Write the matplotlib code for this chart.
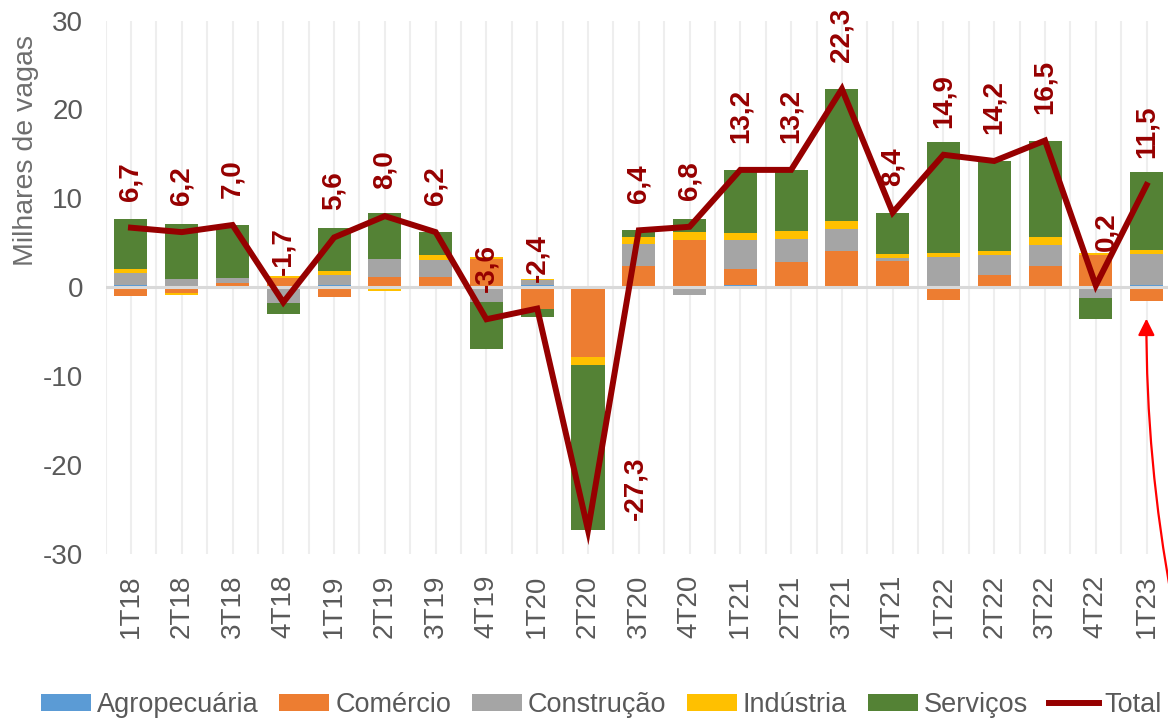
import matplotlib
matplotlib.use('Agg')
import matplotlib.pyplot as plt
import numpy as np

plt.rcParams['font.family'] = ['Liberation Sans', 'DejaVu Sans']
plt.rcParams['axes.unicode_minus'] = False

# saldo de vagas por trimestre e setor (milhares)
trimestres = ['1T18', '2T18', '3T18', '4T18', '1T19', '2T19', '3T19', '4T19',
              '1T20', '2T20', '3T20', '4T20', '1T21', '2T21', '3T21', '4T21',
              '1T22', '2T22', '3T22', '4T22', '1T23']
agropecuaria = [0.3, 0.0, 0.0, -0.2, 0.2, 0.0, 0.0, 0.0, 0.2, 0.0, 0.0,
                0.0, 0.3, 0.0, 0.0, 0.0, 0.0, 0.0, 0.0, 0.0, 0.2]
comercio = [-1.0, -0.6, 0.5, 1.0, -1.1, 1.1, 1.2, 3.2, -2.4, -7.8, 2.4,
            5.3, 1.8, 2.8, 4.1, 3.0, -1.4, 1.4, 2.4, 3.6, -1.5]
construcao = [1.3, 0.9, 0.5, -1.6, 1.2, 2.1, 1.9, -1.7, 0.6, 0.0, 2.5,
              -0.9, 3.2, 2.6, 2.5, 0.3, 3.4, 2.2, 2.4, -1.2, 3.5]
industria = [0.4, -0.3, 0.0, 0.3, 0.4, -0.4, 0.5, 0.2, 0.1, -1.0, 0.8,
             0.9, 0.8, 0.9, 0.8, 0.4, 0.5, 0.5, 0.8, 0.2, 0.5]
servicos = [5.7, 6.2, 6.0, -1.2, 4.9, 5.2, 2.6, -5.3, -0.9, -18.5, 0.7,
            1.5, 7.1, 6.9, 14.9, 4.7, 12.4, 10.1, 10.9, -2.4, 8.8]
total = [6.7, 6.2, 7.0, -1.7, 5.6, 8.0, 6.2, -3.6, -2.4, -27.3, 6.4,
         6.8, 13.2, 13.2, 22.3, 8.4, 14.9, 14.2, 16.5, 0.2, 11.5]

setores = [('Agropecuária', agropecuaria, '#5B9BD5'),
           ('Comércio', comercio, '#ED7D31'),
           ('Construção', construcao, '#A5A5A5'),
           ('Indústria', industria, '#FFC000'),
           ('Serviços', servicos, '#548235')]

vermelho = '#960000'
cinza = '#595959'

fig = plt.figure(figsize=(11.68, 7.2), dpi=100)
ax = fig.add_axes([0.0904, 0.2306, 0.9130, 0.7409])

x = np.arange(len(trimestres))

# grade vertical no centro e nas divisas de cada categoria
for xv in np.arange(-0.5, len(x), 0.5):
    ax.axvline(xv, color='#EEEEEE', lw=1.5, zorder=0)

# barras empilhadas: positivos para cima, negativos para baixo
pos = np.zeros(len(x))
neg = np.zeros(len(x))
barras = []
for nome, vals, cor in setores:
    v = np.array(vals)
    base = np.where(v >= 0, pos, neg)
    b = ax.bar(x, v, 0.65, bottom=base, color=cor, label=nome, zorder=2)
    barras.append(b)
    pos += np.where(v >= 0, v, 0)
    neg += np.where(v < 0, v, 0)

ax.axhline(0, color='#D9D9D9', lw=2.2, zorder=3)

linha, = ax.plot(x, total, color=vermelho, lw=4.3, zorder=4, label='Total',
                 solid_joinstyle='miter')

# rótulos do total
desloc = {9: (47, 10), 19: (11, 34)}
for i, t in enumerate(total):
    dx, dy = desloc.get(i, (0, 27))
    ax.annotate(f'{t:.1f}'.replace('.', ','), (i, t), xytext=(dx, dy),
                textcoords='offset pixels', rotation=90, ha='center',
                va='bottom', fontsize=20, fontweight='bold', color=vermelho,
                zorder=5, annotation_clip=False)

ax.set_xlim(-0.5, len(x) - 0.5)
ax.set_ylim(-30, 30)
ax.set_yticks(range(-30, 31, 10))
ax.set_xticks(x, trimestres, rotation=90)
ax.tick_params(axis='both', length=0, labelsize=20, labelcolor=cinza)
ax.tick_params(axis='y', pad=16)
ax.tick_params(axis='x', pad=15)
for s in ax.spines.values():
    s.set_visible(False)

ax.set_ylabel('Milhares de vagas', fontsize=20.5, color='#6E6E6E')
ax.yaxis.set_label_coords(-0.0625, 0.757)

# seta apontando para o último trimestre
ax.annotate('', xy=(x[-1], neg[-1]), xycoords='data',
            xytext=(1172, 120), textcoords='figure pixels',
            arrowprops=dict(arrowstyle='-|>,head_length=0.5,head_width=0.25',
                            mutation_scale=20, color='red', lw=1.6,
                            shrinkA=0, shrinkB=13,
                            connectionstyle='arc3,rad=-0.05'),
            annotation_clip=False, zorder=6)

fig.legend(barras + [linha], [s[0] for s in setores] + ['Total'],
           loc='center', bbox_to_anchor=(0.515, 0.021), ncol=6,
           frameon=False, fontsize=19.5, handlelength=1.85,
           handleheight=0.58, handletextpad=0.22, columnspacing=0.76,
           labelcolor=cinza)

fig.savefig('out.png', dpi=100)
